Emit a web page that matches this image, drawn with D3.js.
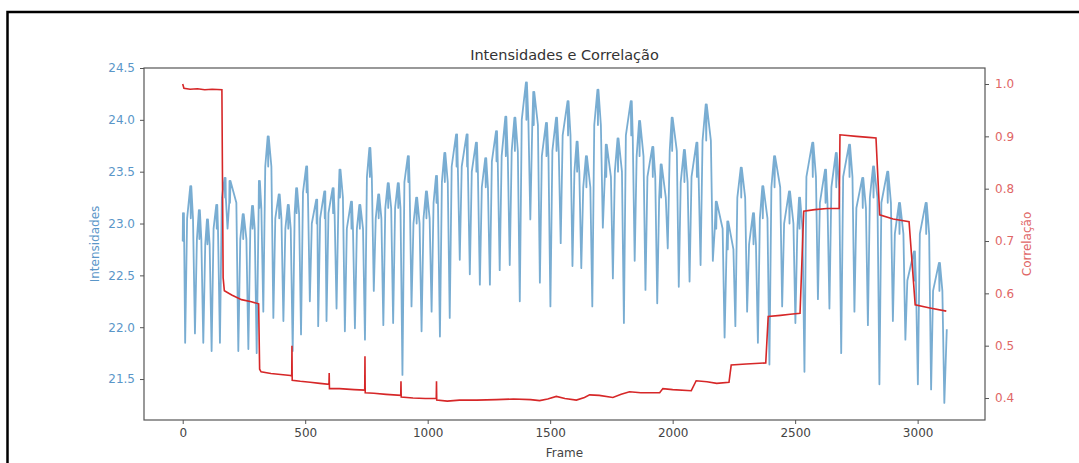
<!DOCTYPE html>
<html><head>
<meta charset="utf-8">
<title>Intensidades e Correlação</title>
<script src="https://d3js.org/d3.v7.min.js"></script>
<style>
  body { margin: 0; background: #fff; }
  svg { display: block; font-family: "DejaVu Sans", sans-serif; }
</style>
</head>
<body>
<div id="chart"></div>
<script>

// ---- data ----
var xTicks = [0, 500, 1000, 1500, 2000, 2500, 3000];
var intensTicks = [21.5, 22.0, 22.5, 23.0, 23.5, 24.0, 24.5];
var corrTicks = [0.4, 0.5, 0.6, 0.7, 0.8, 0.9, 1.0];

// intensity: each cycle = a noisy top band (peakLow..peakHigh) then a dip
var peakFrame = [3, 33, 68, 101, 139, 173, 193, 247, 285, 313,
  349, 394, 431, 465, 506, 547, 580, 614, 642, 689,
  723, 764, 800, 839, 880, 921, 955, 995, 1036, 1070,
  1118, 1161, 1199, 1237, 1281, 1319, 1356, 1403, 1433, 1485,
  1526, 1573, 1610, 1648, 1695, 1729, 1777, 1831, 1865, 1919,
  1953, 1998, 2048, 2099, 2137, 2178, 2225, 2280, 2330, 2368,
  2416, 2477, 2518, 2572, 2624, 2668, 2722, 2776, 2820, 2878,
  2926, 2987, 3035, 3089];
var peakHigh = [23.10, 23.36, 23.13, 23.04, 23.18, 23.44, 23.41, 23.09, 23.17, 23.41,
  23.84, 23.28, 23.18, 23.34, 23.55, 23.23, 23.31, 23.34, 23.52, 23.21,
  23.18, 23.73, 23.28, 23.39, 23.39, 23.65, 23.25, 23.31, 23.46, 23.68,
  23.86, 23.86, 23.78, 23.63, 23.89, 24.03, 24.02, 24.36, 24.27, 23.97,
  24.02, 24.18, 23.79, 23.65, 24.29, 23.76, 23.82, 24.18, 23.99, 23.74,
  23.57, 24.02, 23.71, 23.78, 24.15, 23.21, 23.02, 23.54, 23.10, 23.36,
  23.65, 23.31, 23.25, 23.78, 23.52, 23.68, 23.76, 23.44, 23.55, 23.50,
  23.20, 22.73, 23.20, 22.62];
var peakLow = [22.83, 23.05, 22.85, 22.80, 22.95, 23.25, 23.20, 22.85, 22.95, 23.15,
  23.55, 23.05, 22.95, 23.10, 23.30, 23.00, 23.05, 23.10, 23.25, 22.95,
  22.95, 23.45, 23.05, 23.15, 23.15, 23.40, 23.00, 23.05, 23.20, 23.40,
  23.55, 23.55, 23.50, 23.35, 23.60, 23.65, 23.70, 24.00, 23.95, 23.65,
  23.70, 23.85, 23.50, 23.35, 23.95, 23.45, 23.50, 23.85, 23.65, 23.45,
  23.25, 23.70, 23.40, 23.45, 23.80, 22.95, 22.75, 23.25, 22.80, 23.05,
  23.35, 23.00, 22.95, 23.45, 23.20, 23.35, 23.45, 23.15, 23.25, 23.20,
  22.90, 22.45, 22.90, 22.35];
var dipFrame = [10, 50, 84, 118, 152, 183, 227, 268, 302, 329,
  370, 411, 449, 483, 519, 553, 587, 628, 662, 703,
  744, 780, 819, 859, 897, 934, 975, 1016, 1050, 1090,
  1131, 1172, 1213, 1254, 1294, 1335, 1376, 1419, 1458, 1501,
  1543, 1591, 1627, 1672, 1715, 1756, 1801, 1845, 1889, 1937,
  1980, 2025, 2069, 2114, 2164, 2212, 2256, 2304, 2348, 2395,
  2447, 2501, 2538, 2593, 2640, 2688, 2742, 2797, 2844, 2899,
  2950, 3001, 3055, 3109];
var dipValue = [21.85, 21.94, 21.85, 21.77, 21.85, 22.95, 21.77, 21.79, 21.75, 22.15,
  22.09, 22.06, 21.77, 21.93, 22.25, 22.01, 22.06, 22.18, 21.96, 21.99,
  21.88, 22.35, 22.02, 22.04, 21.54, 22.20, 21.96, 22.15, 21.91, 22.09,
  22.65, 22.51, 22.41, 22.41, 22.55, 22.60, 22.25, 23.04, 22.43, 22.20,
  22.81, 22.59, 22.57, 22.20, 22.96, 22.47, 22.04, 22.64, 22.36, 22.23,
  22.76, 22.39, 22.44, 22.60, 22.64, 21.90, 22.01, 22.15, 21.85, 21.64,
  22.20, 22.04, 21.57, 22.27, 22.18, 21.75, 22.15, 22.02, 21.45, 22.06,
  21.88, 21.45, 21.40, 21.27];
var lastFrame = 3119, lastValue = 21.98;

// correlation (step curve)
var corrFrame = [0, 5, 30, 60, 90, 120, 160,
  165, 170, 200, 240, 280, 310,
  314, 320, 360, 400, 440, 445, 446, 447, 480, 520, 560, 597, 598, 599,
  640, 700, 743, 744, 745, 780, 830, 890, 891, 892, 940, 990, 1035, 1036, 1037,
  1080, 1130, 1200, 1280, 1350, 1420, 1457, 1490, 1525, 1560, 1607, 1640, 1661,
  1700, 1756, 1790, 1824, 1870, 1947, 1960, 2000, 2076, 2096, 2140, 2180, 2230,
  2239, 2300, 2380, 2390, 2440, 2480, 2520, 2535, 2580, 2630, 2680, 2683,
  2750, 2800, 2830, 2845, 2900, 2965, 2990, 3050, 3117];
var corrValue = [1.0, 0.992, 0.990, 0.991, 0.989, 0.990, 0.989,
  0.63, 0.605, 0.597, 0.588, 0.584, 0.580,
  0.455, 0.450, 0.447, 0.445, 0.443, 0.442, 0.500, 0.434, 0.432, 0.430, 0.428, 0.426, 0.448, 0.418,
  0.418, 0.416, 0.415, 0.480, 0.410, 0.409, 0.407, 0.405, 0.432, 0.402, 0.400, 0.399, 0.399, 0.432, 0.396,
  0.394, 0.396, 0.396, 0.397, 0.398, 0.397, 0.395, 0.398, 0.403, 0.399, 0.396, 0.401, 0.406,
  0.405, 0.401, 0.407, 0.412, 0.410, 0.410, 0.418, 0.416, 0.414, 0.433, 0.431, 0.428, 0.430,
  0.463, 0.465, 0.467, 0.556, 0.558, 0.560, 0.562, 0.757, 0.760, 0.762, 0.762, 0.903,
  0.900, 0.898, 0.897, 0.750, 0.742, 0.737, 0.578, 0.572, 0.566];

// ---- layout ----
var W = 1079, H = 463;
var plotL = 144, plotR = 985, plotT = 68, plotB = 420;

var svg = d3.select("#chart").append("svg")
  .attr("width", W)
  .attr("height", H);

svg.append("rect").attr("width", W).attr("height", H).attr("fill", "#fff");

var x = d3.scaleLinear().domain([-158, 3275]).range([plotL, plotR]);
var yL = d3.scaleLinear().domain([21.105, 24.5]).range([plotB, plotT]);
var yR = d3.scaleLinear().domain([0.358, 1.0306]).range([plotB, plotT]);

// intensity polyline: plateau with a wiggle at the peak, steep V into each dip
var intens = [];
for (var i = 0; i < peakFrame.length; i++) {
  var p = peakFrame[i];
  var start = i === 0 ? 0 : Math.min(dipFrame[i - 1] + 8, p - 3);
  intens.push([start, peakLow[i]]);
  intens.push([p - 2, peakHigh[i]]);
  intens.push([p, peakLow[i]]);
  intens.push([p + 2, peakHigh[i]]);
  intens.push([Math.max(dipFrame[i] - 8, p + 3), peakLow[i]]);
  intens.push([dipFrame[i], dipValue[i]]);
}
intens.push([lastFrame, lastValue]);

var corr = corrFrame.map(function(f, i) { return [f, corrValue[i]]; });

svg.append("path")
  .datum(intens)
  .attr("fill", "none")
  .attr("stroke", "#1f77b4")
  .attr("stroke-opacity", 0.6)
  .attr("stroke-width", 1.8)
  .attr("stroke-linejoin", "round")
  .attr("d", d3.line()
    .x(function(d) { return x(d[0]); })
    .y(function(d) { return yL(d[1]); }));

svg.append("path")
  .datum(corr)
  .attr("fill", "none")
  .attr("stroke", "#d62728")
  .attr("stroke-width", 1.6)
  .attr("d", d3.line()
    .x(function(d) { return x(d[0]); })
    .y(function(d) { return yR(d[1]); }));

// axes
var gx = svg.append("g")
  .attr("transform", "translate(0," + plotB + ")")
  .call(d3.axisBottom(x).tickValues(xTicks).tickSize(4).tickPadding(4).tickFormat(d3.format("d")));

var gl = svg.append("g")
  .attr("transform", "translate(" + plotL + ",0)")
  .call(d3.axisLeft(yL).tickValues(intensTicks).tickSize(4).tickPadding(5).tickFormat(d3.format(".1f")));

var gr = svg.append("g")
  .attr("transform", "translate(" + plotR + ",0)")
  .call(d3.axisRight(yR).tickValues(corrTicks).tickSize(4).tickPadding(6).tickFormat(d3.format(".1f")));

[gx, gl, gr].forEach(function(g) {
  g.select(".domain").remove();
  g.selectAll(".tick line").attr("stroke", "#555").attr("stroke-width", 1);
  g.selectAll(".tick text").style("font-size", "12px").style("font-family", "DejaVu Sans");
});
gx.selectAll(".tick text").attr("fill", "#444");
gl.selectAll(".tick text").attr("fill", "#5a96c8");
gr.selectAll(".tick text").attr("fill", "#e06666");

// spines
svg.append("rect")
  .attr("x", plotL).attr("y", plotT)
  .attr("width", plotR - plotL).attr("height", plotB - plotT)
  .attr("fill", "none")
  .attr("stroke", "#555")
  .attr("stroke-width", 1.2);

// titles
svg.append("text")
  .attr("x", (plotL + plotR) / 2).attr("y", 60)
  .attr("text-anchor", "middle")
  .style("font-size", "14.5px")
  .attr("fill", "#333")
  .text("Intensidades e Correlação");

svg.append("text")
  .attr("x", (plotL + plotR) / 2).attr("y", 457)
  .attr("text-anchor", "middle")
  .style("font-size", "12px")
  .attr("fill", "#444")
  .text("Frame");

svg.append("text")
  .attr("transform", "translate(99," + ((plotT + plotB) / 2) + ") rotate(-90)")
  .attr("text-anchor", "middle")
  .style("font-size", "12px")
  .attr("fill", "#5a96c8")
  .text("Intensidades");

svg.append("text")
  .attr("transform", "translate(1031," + ((plotT + plotB) / 2) + ") rotate(-90)")
  .attr("text-anchor", "middle")
  .style("font-size", "12px")
  .attr("fill", "#e06666")
  .text("Correlação");

// outer black frame (runs off the right and bottom edges)
svg.append("rect")
  .attr("x", 7.5).attr("y", 12)
  .attr("width", 1200).attr("height", 600)
  .attr("fill", "none")
  .attr("stroke", "#000")
  .attr("stroke-width", 2.5);

</script>
</body></html>
